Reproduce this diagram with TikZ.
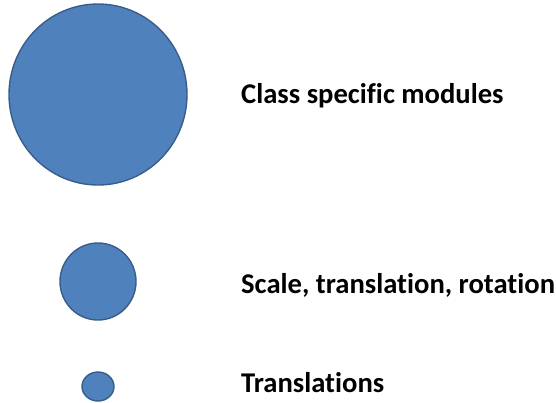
\documentclass[tikz,border=0pt]{standalone}
\usepackage{fontspec}
\setmainfont[Ligatures=NoCommon]{Carlito}
\definecolor{blobfill}{HTML}{4F81BD}
\definecolor{blobline}{HTML}{385D8A}
\tikzset{
  blob/.style={draw=blobline, fill=blobfill, line width=1.4pt},
  caption/.style={anchor=base west, inner sep=0pt, font=\fontsize{28.6}{34}\selectfont\bfseries}
}
\begin{document}
\begin{tikzpicture}[x=1pt,y=-1pt]
  \useasboundingbox (0,0) rectangle (556,402);
  % three circles of decreasing size
  \draw[blob] (98,94.5) ellipse [x radius=89, y radius=90.5];
  \draw[blob] (98,281.5) ellipse [x radius=38, y radius=38.5];
  \draw[blob] (98,386.5) ellipse [x radius=16, y radius=14.5];
  % labels
  \node[caption] (l1) at (241,103) {Class specific modules};
  \node[caption] (l2) at (241,293) {Scale, translation, rotation};
  \node[caption] (l3) at (241,392) {Translations};
\end{tikzpicture}
\end{document}
